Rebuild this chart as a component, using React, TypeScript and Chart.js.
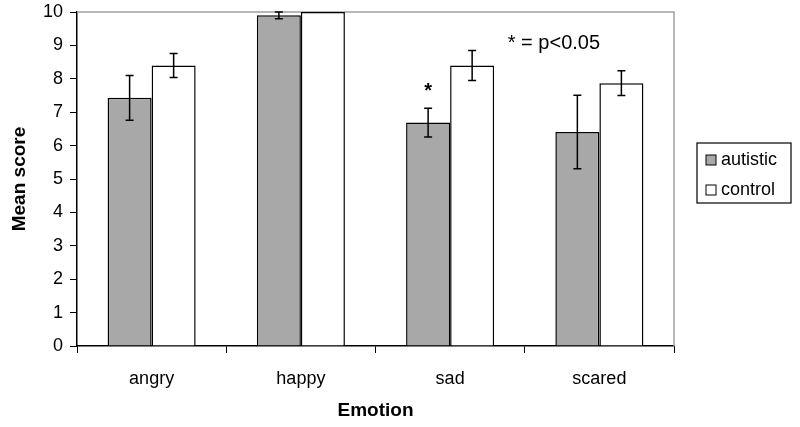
import React, { useEffect, useRef } from "react";
import { Chart, registerables } from "chart.js";

Chart.register(...registerables);

const categories = ["angry", "happy", "sad", "scared"];
const autisticMeans = [7.43, 9.9, 6.69, 6.41];
const autisticErrors = [0.67, 0.1, 0.43, 1.1];
const controlMeans = [8.4, 10.0, 8.4, 7.87];
const controlErrors = [0.36, 0, 0.45, 0.37];
const yTicks = [0, 1, 2, 3, 4, 5, 6, 7, 8, 9, 10];
const seriesLabels = ["autistic", "control"];
const significantIndex = 2;
const noteText = "* = p<0.05";

const FONT = "Arial, 'Liberation Sans', sans-serif";

const errorBarPlugin = {
  id: "errorBars",
  afterDatasetsDraw(chart: any) {
    const ctx = chart.ctx;
    const y = chart.scales.y;
    const errs = [autisticErrors, controlErrors];
    ctx.save();
    ctx.strokeStyle = "#000";
    ctx.lineWidth = 1.5;
    chart.data.datasets.forEach((ds: any, di: number) => {
      const meta = chart.getDatasetMeta(di);
      meta.data.forEach((bar: any, i: number) => {
        const e = errs[di][i];
        if (!e) return;
        const v = ds.data[i];
        const top = y.getPixelForValue(Math.min(v + e, 10));
        const bot = y.getPixelForValue(v - e);
        const x = bar.x;
        ctx.beginPath();
        ctx.moveTo(x, top);
        ctx.lineTo(x, bot);
        ctx.moveTo(x - 4, top);
        ctx.lineTo(x + 4, top);
        ctx.moveTo(x - 4, bot);
        ctx.lineTo(x + 4, bot);
        ctx.stroke();
      });
    });
    // asterisk
    const meta0 = chart.getDatasetMeta(0);
    const sb = meta0.data[significantIndex];
    const sy = y.getPixelForValue(autisticMeans[significantIndex] + autisticErrors[significantIndex]);
    ctx.fillStyle = "#000";
    ctx.font = "bold 20px " + FONT;
    ctx.textAlign = "center";
    ctx.textBaseline = "middle";
    ctx.fillText("*", sb.x, sy - 17);
    // note
    const xs = chart.scales.x;
    ctx.font = "20px " + FONT;
    ctx.textAlign = "left";
    ctx.fillText(noteText, xs.getPixelForValue(2.5) - 17, y.getPixelForValue(9.05));
    ctx.restore();
  },
};

const framePlugin = {
  id: "frame",
  beforeDatasetsDraw(chart: any) {
    const { ctx, chartArea: a } = chart;
    ctx.save();
    ctx.strokeStyle = "#a0a0a0";
    ctx.lineWidth = 1.5;
    ctx.beginPath();
    ctx.moveTo(a.left, a.top);
    ctx.lineTo(a.right, a.top);
    ctx.lineTo(a.right, a.bottom);
    ctx.stroke();
    ctx.restore();
  },
};

const legendPlugin = {
  id: "customLegend",
  afterDraw(chart: any) {
    const ctx = chart.ctx;
    const bx = 697, by = 143, bw = 94, bh = 60;
    ctx.save();
    ctx.strokeStyle = "#000";
    ctx.lineWidth = 1.2;
    ctx.strokeRect(bx, by, bw, bh);
    const fills = ["#a8a8a8", "#ffffff"];
    const ys = [160, 190];
    ctx.font = "18px " + FONT;
    ctx.textBaseline = "middle";
    ctx.textAlign = "left";
    seriesLabels.forEach((lab, i) => {
      ctx.fillStyle = fills[i];
      ctx.fillRect(706, ys[i] - 5, 10, 10);
      ctx.strokeStyle = "#000";
      ctx.lineWidth = 1;
      ctx.strokeRect(706, ys[i] - 5, 10, 10);
      ctx.fillStyle = "#000";
      ctx.fillText(lab, 721, ys[i]);
    });
    ctx.restore();
  },
};

export default function App() {
  const ref = useRef<HTMLCanvasElement>(null);
  useEffect(() => {
    if (!ref.current) return;
    const chart = new Chart(ref.current, {
      type: "bar",
      data: {
        labels: categories,
        datasets: [
          {
            label: seriesLabels[0],
            data: autisticMeans,
            backgroundColor: "#a8a8a8",
            borderColor: "#000",
            borderWidth: 1.5,
          },
          {
            label: seriesLabels[1],
            data: controlMeans,
            backgroundColor: "#ffffff",
            borderColor: "#000",
            borderWidth: 1.5,
          },
        ],
      },
      options: {
        animation: false,
        responsive: false,
        layout: { padding: { top: 12, right: 126, left: 0, bottom: 0 } },
        plugins: { legend: { display: false }, tooltip: { enabled: false } },
        datasets: { bar: { barPercentage: 1, categoryPercentage: 0.59 } },
        scales: {
          x: {
            grid: { drawOnChartArea: false, color: "#000", tickLength: 7, offset: true },
            border: { color: "#000", width: 1.5 },
            ticks: { color: "#000", font: { family: FONT, size: 18 }, padding: 15 },
            title: {
              display: true,
              text: "Emotion",
              color: "#000",
              font: { family: FONT, size: 19, weight: "bold" },
              padding: { top: 0, bottom: 5 },
            },
            afterFit(s: any) {
              s.height = 427 - 346;
              s.paddingLeft = 0;
              s.paddingRight = 0;
            },
          },
          y: {
            min: 0,
            max: 10,
            afterBuildTicks(s: any) {
              s.ticks = yTicks.map((v) => ({ value: v }));
            },
            grid: { drawOnChartArea: false, color: "#000", tickLength: 7 },
            border: { color: "#000", width: 1.5 },
            ticks: { color: "#000", font: { family: FONT, size: 18 }, padding: 7 },
            title: {
              display: true,
              text: "Mean score",
              color: "#000",
              font: { family: FONT, size: 19, weight: "bold" },
              padding: { top: 8, bottom: 0 },
            },
            afterFit(s: any) {
              s.width = 77;
              s.paddingTop = 0;
              s.paddingBottom = 0;
            },
          },
        },
      } as any,
      plugins: [framePlugin, errorBarPlugin, legendPlugin],
    });
    return () => chart.destroy();
  }, []);
  return (
    <div style={{ position: "absolute", left: 0, top: 0, width: 800, height: 427, background: "#fff" }}>
      <canvas ref={ref} width={800} height={427} style={{ width: 800, height: 427 }} />
    </div>
  );
}
